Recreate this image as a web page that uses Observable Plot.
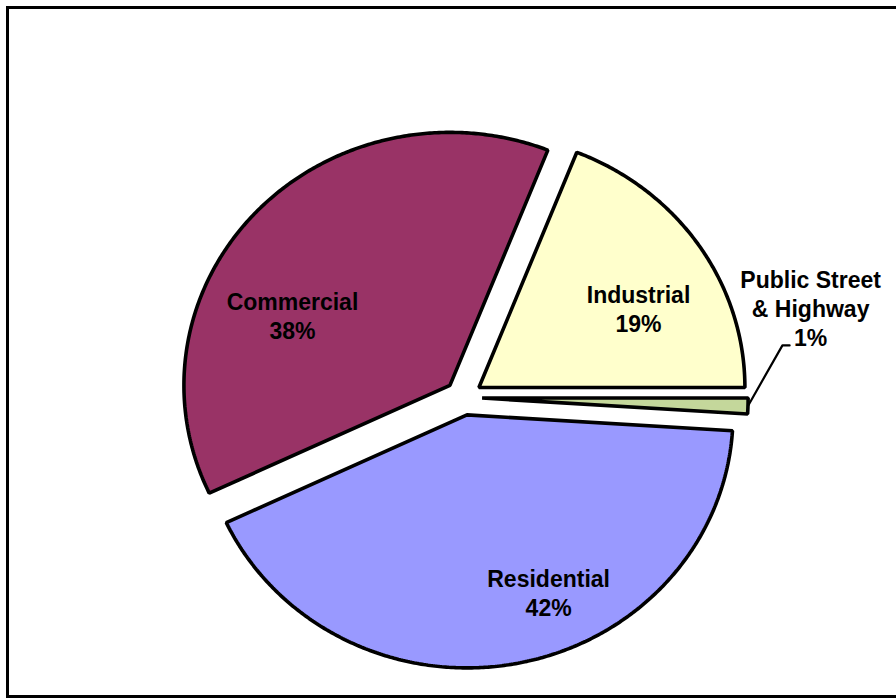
<!DOCTYPE html>
<html><head><meta charset="utf-8">
<script src="https://cdn.jsdelivr.net/npm/d3@7"></script>
<script src="https://cdn.jsdelivr.net/npm/@observablehq/plot@0.6"></script>
<style>
html,body{margin:0;padding:0;background:#fff;overflow:hidden;}
#wrap{position:relative;width:896px;height:698px;overflow:hidden;background:#fff;}
#chart{position:absolute;left:0;top:0;}
#border{position:absolute;left:6px;top:6px;width:1000px;height:686px;border:3px solid #000;pointer-events:none;}
</style></head><body>
<div id="wrap"><div id="chart"></div><div id="border"></div></div>
<script>
// ---- data ----
const categories = ["Industrial", "Public Street & Highway", "Residential", "Commercial"];
const values = [19, 1, 42, 38];
const labels = ["Industrial\n19%", "Public Street\n& Highway\n1%", "Residential\n42%", "Commercial\n38%"];
const colors = ["#FFFFCC", "#C4D79B", "#9999FF", "#993366"];

// ---- layout ----
const startDeg = 21.6;
const explode = 0.07;
const labelAnchor = [[0.658, 0.352], [1.305, 0.356], [0.320, -0.769], [-0.643, 0.326]];
const leaderElbow = [[1.199, 0.206], [1.226, 0.206]];

const a0 = startDeg * Math.PI / 180;
const arcs = d3.pie().sort(null).value(d => d).startAngle(a0).endAngle(a0 + 2 * Math.PI)(values);

const slicePts = [];
arcs.forEach((a, i) => {
  const mid = (a.startAngle + a.endAngle) / 2;
  const ox = explode * Math.sin(mid), oy = explode * Math.cos(mid);
  slicePts.push({cat: categories[i], x: ox, y: oy});
  const n = Math.max(2, Math.ceil((a.endAngle - a.startAngle) / (Math.PI / 360)));
  for (let k = 0; k <= n; k++) {
    const t = a.startAngle + (a.endAngle - a.startAngle) * k / n;
    slicePts.push({cat: categories[i], x: ox + Math.sin(t), y: oy + Math.cos(t)});
  }
});

const pa = arcs[1];
const pmid = (pa.startAngle + pa.endAngle) / 2;
const leader = [
  {x: explode * Math.sin(pmid) + Math.sin(pmid), y: explode * Math.cos(pmid) + Math.cos(pmid)},
  {x: leaderElbow[0][0], y: leaderElbow[0][1]},
  {x: leaderElbow[1][0], y: leaderElbow[1][1]}
];

const labelData = labels.map((t, i) => ({text: t, x: labelAnchor[i][0], y: labelAnchor[i][1]}));

const cx = 463, cy = 397, rx = 266, ry = 253;
const chart = Plot.plot({
  width: 896,
  height: 698,
  margin: 0,
  style: {background: "transparent"},
  x: {domain: [-1, 1], range: [cx - rx, cx + rx], axis: null},
  y: {domain: [-1, 1], range: [cy + ry, cy - ry], axis: null},
  color: {domain: categories, range: colors},
  marks: [
    Plot.line(slicePts, {x: "x", y: "y", z: "cat", fill: "cat", stroke: "#000", strokeWidth: 3.6, curve: "linear-closed", strokeLinejoin: "miter"}),
    Plot.line(leader, {x: "x", y: "y", stroke: "#000", strokeWidth: 2.2}),
    Plot.text(labelData, {x: "x", y: "y", text: "text", fontSize: 23, fontWeight: "bold", fontFamily: "Liberation Sans, Arial, sans-serif", lineHeight: 1.26, fill: "#000"})
  ]
});
document.getElementById("chart").appendChild(chart);
</script>
</body></html>
